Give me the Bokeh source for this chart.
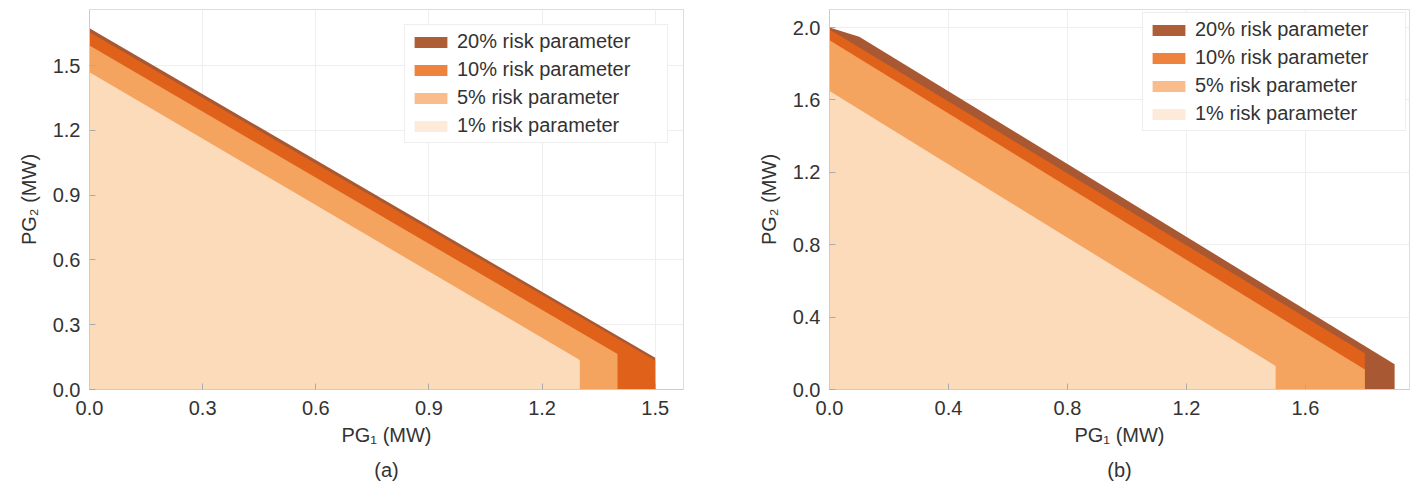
from bokeh.plotting import figure
from bokeh.models import Range1d, FixedTicker, PrintfTickFormatter, Legend, LegendItem, Title
from bokeh.layouts import row
from bokeh.embed import file_html
from bokeh.resources import INLINE

levels = ["20% risk parameter", "10% risk parameter", "5% risk parameter", "1% risk parameter"]
fill_colors = ["#A85832", "#E0621A", "#F5A460", "#FCDBBB"]
legend_colors = ["#AD5E36", "#EE833E", "#FBBC8C", "#FEEAD8"]

# (a) upper-edge vertices of each feasible region (PG1, PG2 in MW)
a_pg1 = [[0.0, 1.5], [0.0, 1.5], [0.0, 1.4], [0.0, 1.3]]
a_pg2 = [[1.673, 0.147], [1.655, 0.134], [1.593, 0.165], [1.469, 0.137]]
a_xticks = [0.0, 0.3, 0.6, 0.9, 1.2, 1.5]
a_yticks = [0.0, 0.3, 0.6, 0.9, 1.2, 1.5]

# (b)
b_pg1 = [[0.0, 0.1, 1.9], [0.0, 1.8], [0.0, 1.8], [0.0, 1.5]]
b_pg2 = [[2.0, 1.95, 0.14], [1.99, 0.2], [1.93, 0.11], [1.65, 0.13]]
b_xticks = [0.0, 0.4, 0.8, 1.2, 1.6]
b_yticks = [0.0, 0.4, 0.8, 1.2, 1.6, 2.0]

FONT = "Liberation Sans"
TXT = "#333333"
NAN = float("nan")


def make(pg1, pg2, xr, yr, xticks, yticks, caption, width, bl, br, leg_margin):
    p = figure(width=width, height=489, x_range=Range1d(*xr), y_range=Range1d(*yr),
               output_backend="svg", toolbar_location=None,
               min_border_left=bl, min_border_right=br, min_border_top=9, min_border_bottom=100)
    p.background_fill_color = "white"
    p.border_fill_color = "white"
    p.outline_line_color = "#dddddd"
    p.grid.grid_line_color = "#eeeeee"
    p.xaxis.ticker = FixedTicker(ticks=xticks)
    p.yaxis.ticker = FixedTicker(ticks=yticks)
    for ax in (p.xaxis, p.yaxis):
        ax.formatter = PrintfTickFormatter(format="%.1f")
        ax.axis_line_color = "#cccccc"
        ax.major_tick_line_color = "#aaaaaa"
        ax.major_tick_in = 6
        ax.major_tick_out = 0
        ax.minor_tick_line_color = None
        ax.major_label_text_font = FONT
        ax.major_label_text_font_size = "20px"
        ax.major_label_text_color = TXT
        ax.axis_label_text_font = FONT
        ax.axis_label_text_font_size = "20px"
        ax.axis_label_text_font_style = "normal"
        ax.axis_label_text_color = TXT
    p.xaxis.axis_label = "PG\u2081 (MW)"
    p.yaxis.axis_label = "PG\u2082 (MW)"
    p.xaxis.major_label_standoff = 11
    p.yaxis.major_label_standoff = 9
    p.xaxis.axis_label_standoff = 6
    p.yaxis.axis_label_standoff = 10

    for xs, ys, c in zip(pg1, pg2, fill_colors):
        px = list(xs) + [xs[-1], xs[0]]
        py = list(ys) + [0.0, 0.0]
        p.patch(px, py, fill_color=c, line_color=None)

    items = []
    for lab, c in zip(levels, legend_colors):
        r = p.quad(left=[NAN], right=[NAN], bottom=[NAN], top=[NAN], fill_color=c, line_color=None)
        items.append(LegendItem(label=lab, renderers=[r]))
    leg = Legend(items=items, location="top_right", margin=leg_margin,
                 border_line_color="#dddddd", background_fill_color="white", background_fill_alpha=1,
                 label_text_font=FONT, label_text_font_size="20px", label_text_color=TXT,
                 glyph_width=41, glyph_height=14, label_standoff=6, padding=5, spacing=5,
                 label_height=22, label_width=205)
    p.add_layout(leg)

    t = Title(text=caption, align="center", text_font=FONT, text_font_size="20px",
              text_font_style="normal", text_color=TXT, standoff=17)
    p.add_layout(t, "below")
    return p


p1 = make(a_pg1, a_pg2, (0, 1.575), (0, 1.76), a_xticks, a_yticks, "(a)", 740, 89, 57, 15)
p2 = make(b_pg1, b_pg2, (0, 1.95), (0, 2.1), b_xticks, b_yticks, "(b)", 670, 89, 1, 3)

layout = row(p1, p2)
open("out.html", "w").write(file_html(layout, INLINE))
